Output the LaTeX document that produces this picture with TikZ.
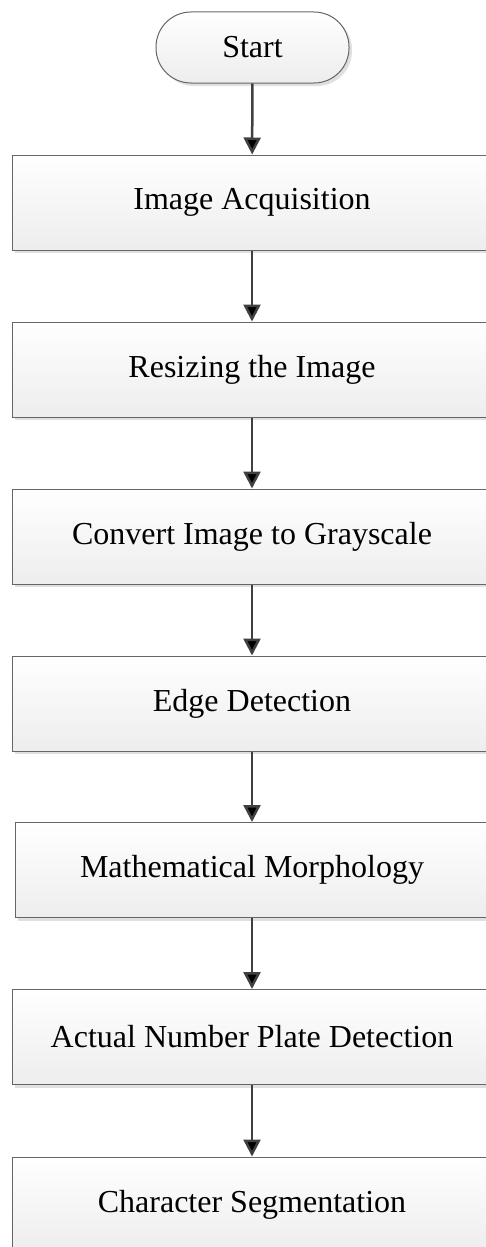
\documentclass[tikz,border=0pt]{standalone}
\usepackage{fontspec}
\setmainfont{Liberation Serif}
\usepackage{tikz}
\usetikzlibrary{shapes}
\usetikzlibrary{arrows.meta}
\usetikzlibrary{shadows}
\tikzset{stepbox/.style={rectangle, draw=black!60, line width=1pt, top color=white, bottom color=black!7,
    drop shadow={shadow xshift=3pt, shadow yshift=-3pt, fill=black!12, opacity=1},
    inner sep=0pt, minimum height=95pt, font=\fontsize{32}{36}\selectfont}}
\tikzset{flow/.style={draw=black!75, line width=2.5pt, -{Triangle[length=17pt,width=17pt]}}}

\begin{document}
\begin{tikzpicture}[x=1pt,y=-1pt]
  \useasboundingbox (0,0) rectangle (485,1247);
  \node[stepbox, rounded corners=35pt, minimum width=193pt, minimum height=71pt] (s) at (252.5, 47.5) {Start};
  \foreach \y/\lab/\w/\txt in {
    202.5/1/480/Image Acquisition,
    369.5/2/480/Resizing the Image,
    536.5/3/480/Convert Image to Grayscale,
    703.5/4/480/Edge Detection,
    870/5/474/Mathematical Morphology,
    1037/6/480/Actual Number Plate Detection,
    1204.5/7/480/Character Segmentation%
  } {
    \node[stepbox, minimum width=\w pt] (\lab) at (252, \y) {\txt};
  }
  \foreach \u/\v in {
    s/1,
    1/2,
    2/3,
    3/4,
    4/5,
    5/6,
    6/7%
  }{
    \draw[flow] (\u) edge (\v);
  }
\end{tikzpicture}
\end{document}
